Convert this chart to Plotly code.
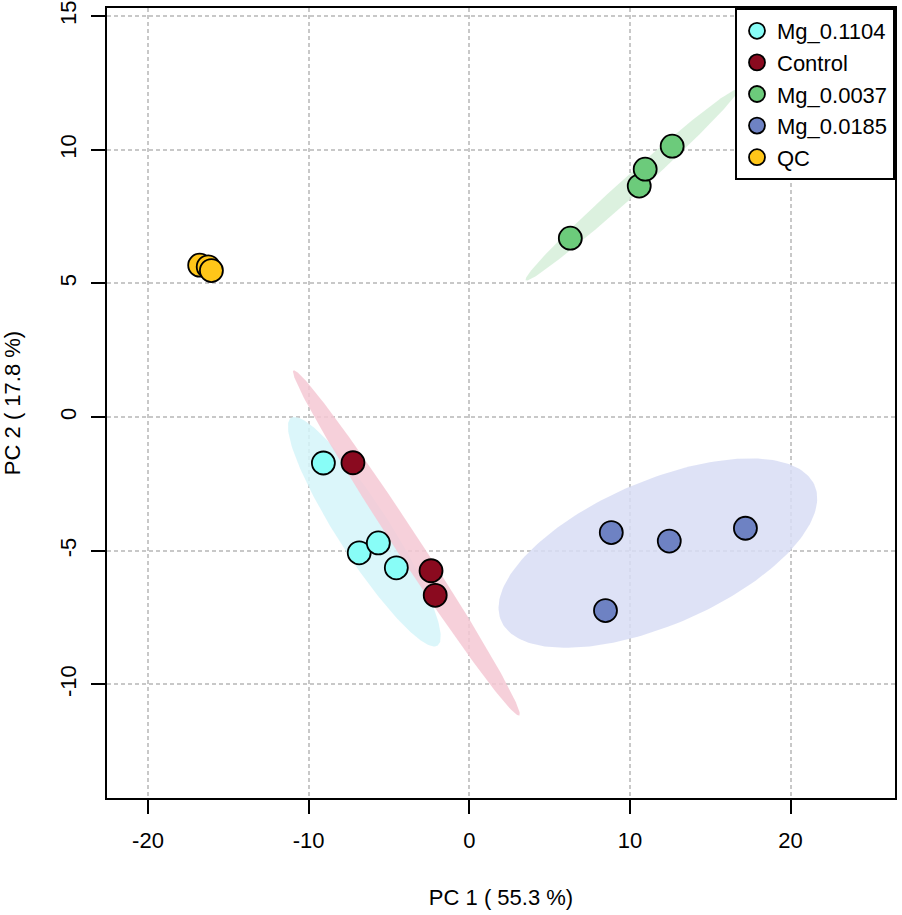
"""PCA score plot (PC1 vs PC2) with 95% confidence ellipses."""

import numpy as np
import plotly.graph_objects as go

# Group names in legend order
groups = ["Mg_0.1104", "Control", "Mg_0.0037", "Mg_0.0185", "QC"]

# Scores
pc1_mg_01104 = [-9.08, -6.85, -5.66, -4.54]
pc2_mg_01104 = [-1.72, -5.08, -4.71, -5.64]

pc1_control = [-7.24, -2.38, -2.12]
pc2_control = [-1.71, -5.75, -6.67]

pc1_mg_00037 = [6.29, 10.58, 10.95, 12.63]
pc2_mg_00037 = [6.69, 8.64, 9.27, 10.13]

pc1_mg_00185 = [8.84, 12.45, 17.19, 8.48]
pc2_mg_00185 = [-4.32, -4.64, -4.16, -7.24]

pc1_qc = [-16.78, -16.25, -16.05]
pc2_qc = [5.68, 5.62, 5.48]

x_ticks = [-20, -10, 0, 10, 20]
y_ticks = [-10, -5, 0, 5, 10, 15]

point_colors = ["#88FDF7", "#8A0A1F", "#6CCB7B", "#6E82C3", "#FFC619"]
ellipse_colors = ["#D5F4F9", "#F5C8D3", "#D6EFD9", "#D8DDF5"]

xs = [pc1_mg_01104, pc1_control, pc1_mg_00037, pc1_mg_00185, pc1_qc]
ys = [pc2_mg_01104, pc2_control, pc2_mg_00037, pc2_mg_00185, pc2_qc]


def conf_ellipse(x, y, level_t=2.4477, n=200):
    """95% normal-theory ellipse (like ellipse::ellipse in R)."""
    pts = np.column_stack([x, y])
    centre = pts.mean(axis=0)
    cov = np.cov(pts, rowvar=False)
    vals, vecs = np.linalg.eigh(cov)
    theta = np.linspace(0, 2 * np.pi, n)
    circle = np.vstack([np.cos(theta), np.sin(theta)])
    ell = vecs @ np.diag(np.sqrt(vals)) @ circle * level_t
    return ell[0] + centre[0], ell[1] + centre[1]


fig = go.Figure()

# Ellipses first (behind points); QC has none
for i in range(4):
    ex, ey = conf_ellipse(xs[i], ys[i])
    fig.add_trace(go.Scatter(
        x=ex, y=ey,
        mode="lines",
        fill="toself",
        fillcolor=ellipse_colors[i],
        line=dict(width=0),
        opacity=0.85,
        hoverinfo="skip",
        showlegend=False,
    ))

for i, name in enumerate(groups):
    fig.add_trace(go.Scatter(
        x=xs[i], y=ys[i],
        mode="markers",
        name=name,
        marker=dict(
            size=23,
            color=point_colors[i],
            line=dict(color="black", width=1.8),
        ),
    ))

axis_common = dict(
    showline=True,
    linecolor="black",
    linewidth=2,
    mirror=True,
    ticks="outside",
    ticklen=14,
    tickwidth=2,
    tickcolor="black",
    showgrid=True,
    gridcolor="#C8C8C8",
    gridwidth=2,
    griddash="4px,3px",
    zeroline=False,
    automargin=False,
)

fig.update_layout(
    width=902,
    height=915,
    plot_bgcolor="white",
    paper_bgcolor="white",
    margin=dict(l=107, r=7, t=8, b=117),
    font=dict(family="Liberation Sans, Arial, sans-serif", color="black"),
    xaxis=dict(
        **axis_common,
        range=[-22.55, 26.5],
        tickvals=x_ticks,
        ticktext=[str(v) for v in x_ticks],
        tickfont=dict(size=22),
        ticklabelstandoff=8,
        title=dict(text="PC 1 ( 55.3 %)", font=dict(size=22), standoff=37),
    ),
    yaxis=dict(
        **axis_common,
        range=[-14.25, 15.3],
        tickvals=y_ticks,
        ticktext=[str(v) for v in y_ticks],
        tickangle=-90,
        tickfont=dict(size=22),
        ticklabelstandoff=6,
        title=dict(text="PC 2 ( 17.8 %)", font=dict(size=22), standoff=31),
    ),
    legend=dict(
        x=1, y=1,
        xanchor="right", yanchor="top",
        bgcolor="white",
        bordercolor="black",
        borderwidth=2,
        font=dict(size=22),
        itemwidth=30,
        tracegroupgap=0,
    ),
)

# drop the default body margin so the figure sits at the window's top-left
fig.write_html(
    "out.html",
    config={"displayModeBar": False},
    post_script="document.body.style.margin = '0px';",
)
